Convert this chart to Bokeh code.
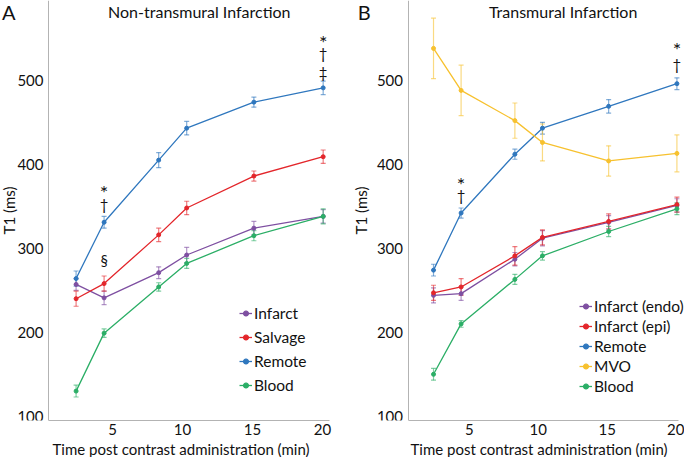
from bokeh.plotting import figure
from bokeh.models import ColumnDataSource, Whisker, TeeHead, Legend, LegendItem, Label, Range1d, Title
from bokeh.layouts import row
from bokeh.embed import file_html
from bokeh.resources import INLINE

FONT = "Lato"

times = [2.4, 4.4, 8.3, 10.3, 15.1, 20.05]

# Panel A: Non-transmural infarction
a_infarct = [257, 241, 271, 292, 324, 338]
a_infarct_err = [7, 8, 7, 9, 8, 8]
a_salvage = [240, 258, 316, 348, 386, 409]
a_salvage_err = [9, 9, 8, 8, 6, 8]
a_remote = [264, 331, 405, 443, 474, 491]
a_remote_err = [9, 7, 9, 8, 6, 8]
a_blood = [130, 199, 254, 282, 315, 338]
a_blood_err = [7, 5, 5, 6, 6, 9]

# Panel B: Transmural infarction
b_endo = [244, 246, 287, 312, 331, 351]
b_endo_err = [9, 8, 8, 9, 8, 8]
b_epi = [247, 254, 291, 313, 332, 352]
b_epi_err = [9, 10, 11, 9, 9, 9]
b_remote = [274, 342, 412, 443, 469, 496]
b_remote_err = [7, 6, 6, 7, 8, 7]
b_mvo = [538, 488, 452, 426, 404, 413]
b_mvo_err = [36, 30, 21, 22, 18, 22]
b_blood = [150, 210, 263, 291, 320, 347]
b_blood_err = [7, 4, 6, 5, 6, 7]

y_ticks = [100, 200, 300, 400, 500]
x_ticks = [5, 10, 15, 20]
x_title = "Time post contrast administration (min)"
y_title = "T1 (ms)"

PURPLE = "#7E4FA1"
RED = "#E3262B"
BLUE = "#2F77BE"
YELLOW = "#F7C12E"
GREEN = "#2BAE66"

a_series = [("Infarct", a_infarct, a_infarct_err, PURPLE),
            ("Salvage", a_salvage, a_salvage_err, RED),
            ("Remote", a_remote, a_remote_err, BLUE),
            ("Blood", a_blood, a_blood_err, GREEN)]
b_series = [("Infarct (endo)", b_endo, b_endo_err, PURPLE),
            ("Infarct (epi)", b_epi, b_epi_err, RED),
            ("Remote", b_remote, b_remote_err, BLUE),
            ("MVO", b_mvo, b_mvo_err, YELLOW),
            ("Blood", b_blood, b_blood_err, GREEN)]

a_marks = [(4.4, 367, "*"), (4.4, 353, "†"), (4.4, 286, "§"),
           (20.05, 546, "*"), (20.05, 532, "†"), (20.05, 510, "‡")]
b_marks = [(4.4, 376, "*"), (4.4, 363, "†"),
           (20.05, 537, "*"), (20.05, 519, "†")]


def make_panel(title, letter, series, marks, xr, axis_x, axis_end,
               legend_loc, legend_spacing, legend_font, title_x, letter_x,
               ylab_standoff, xtitle_offset):
    p = figure(width=342, height=457, output_backend="svg", toolbar_location=None,
               x_range=Range1d(*xr), y_range=Range1d(95, 595),
               min_border_left=0, min_border_right=0,
               min_border_top=0, min_border_bottom=0)
    p.outline_line_color = None
    p.xgrid.visible = False
    p.ygrid.visible = False
    p.background_fill_color = "white"
    for ax in (p.xaxis[0], p.yaxis[0]):
        ax.axis_line_color = "#b3b3b3"
        ax.axis_line_width = 1
        ax.major_tick_line_color = None
        ax.minor_tick_line_color = None
        ax.major_tick_out = 0
        ax.major_tick_in = 0
        ax.minor_tick_out = 0
        ax.major_label_text_font = FONT
        ax.major_label_text_font_size = "15px"
        ax.major_label_text_color = "#111111"
        ax.axis_label_text_font = FONT
        ax.axis_label_text_font_size = "15px"
        ax.axis_label_text_font_style = "normal"
        ax.axis_label_text_color = "#111111"
    p.xaxis.ticker = x_ticks
    p.yaxis.ticker = y_ticks
    p.xaxis.bounds = (axis_x, axis_end)
    p.yaxis.fixed_location = axis_x
    p.yaxis.axis_label = y_title
    p.xaxis.major_label_standoff = 3
    p.yaxis.major_label_standoff = 5
    p.yaxis.axis_label_standoff = ylab_standoff

    p.add_layout(Title(text=x_title, align="left", offset=xtitle_offset, standoff=0,
                       text_font=FONT, text_font_size="15px", text_font_style="normal",
                       text_color="#111111"), "below")

    items = []
    for name, vals, errs, color in series:
        src = ColumnDataSource(dict(x=times, y=vals,
                                    lo=[v - e for v, e in zip(vals, errs)],
                                    hi=[v + e for v, e in zip(vals, errs)]))
        w = Whisker(source=src, base="x", upper="hi", lower="lo",
                    line_color=color, line_alpha=0.6, line_width=1.2,
                    upper_head=TeeHead(size=5, line_color=color, line_alpha=0.6, line_width=1.2),
                    lower_head=TeeHead(size=5, line_color=color, line_alpha=0.6, line_width=1.2))
        p.add_layout(w)
        ln = p.line("x", "y", source=src, line_color=color, line_width=1.3)
        sc = p.scatter("x", "y", source=src, size=4, fill_color=color, line_color=color)
        items.append(LegendItem(label=name, renderers=[ln, sc]))

    legend = Legend(items=items, location=legend_loc, orientation="vertical",
                    label_text_font=FONT, label_text_font_size=legend_font,
                    label_text_color="#111111",
                    glyph_width=13, glyph_height=16, label_height=16,
                    label_standoff=2, spacing=legend_spacing, padding=0, margin=0,
                    border_line_color=None, background_fill_alpha=0)
    p.add_layout(legend)

    for x, y, t in marks:
        size = "20px" if t == "*" else "15px"
        p.add_layout(Label(x=x, y=y, text=t, text_align="center", text_baseline="middle",
                           text_font=FONT, text_font_size=size, text_color="#111111"))

    p.add_layout(Label(x=title_x, y=582, text=title, text_align="center",
                       text_baseline="middle", text_font=FONT, text_font_size="16px",
                       text_color="#111111"))
    p.add_layout(Label(x=letter_x, y=581, text=letter, text_align="left",
                       text_baseline="middle", text_font=FONT, text_font_size="20px",
                       text_color="#111111"))
    return p


pa = make_panel("Non-transmural Infarction", "A", a_series, a_marks,
                xr=(-3.0, 21.43), axis_x=0.43, axis_end=20.5,
                legend_loc=(239, 26), legend_spacing=6, legend_font="15.5px",
                title_x=11.2, letter_x=-2.9, ylab_standoff=-4, xtitle_offset=52)
pb = make_panel("Transmural Infarction", "B", b_series, b_marks,
                xr=(-4.2, 20.6), axis_x=0.55, axis_end=20.2,
                legend_loc=(237, 25), legend_spacing=2, legend_font="15.5px",
                title_x=11.8, letter_x=-3.1, ylab_standoff=4, xtitle_offset=68)

layout = row(pa, pb)
open("out.html", "w").write(file_html(layout, INLINE))
